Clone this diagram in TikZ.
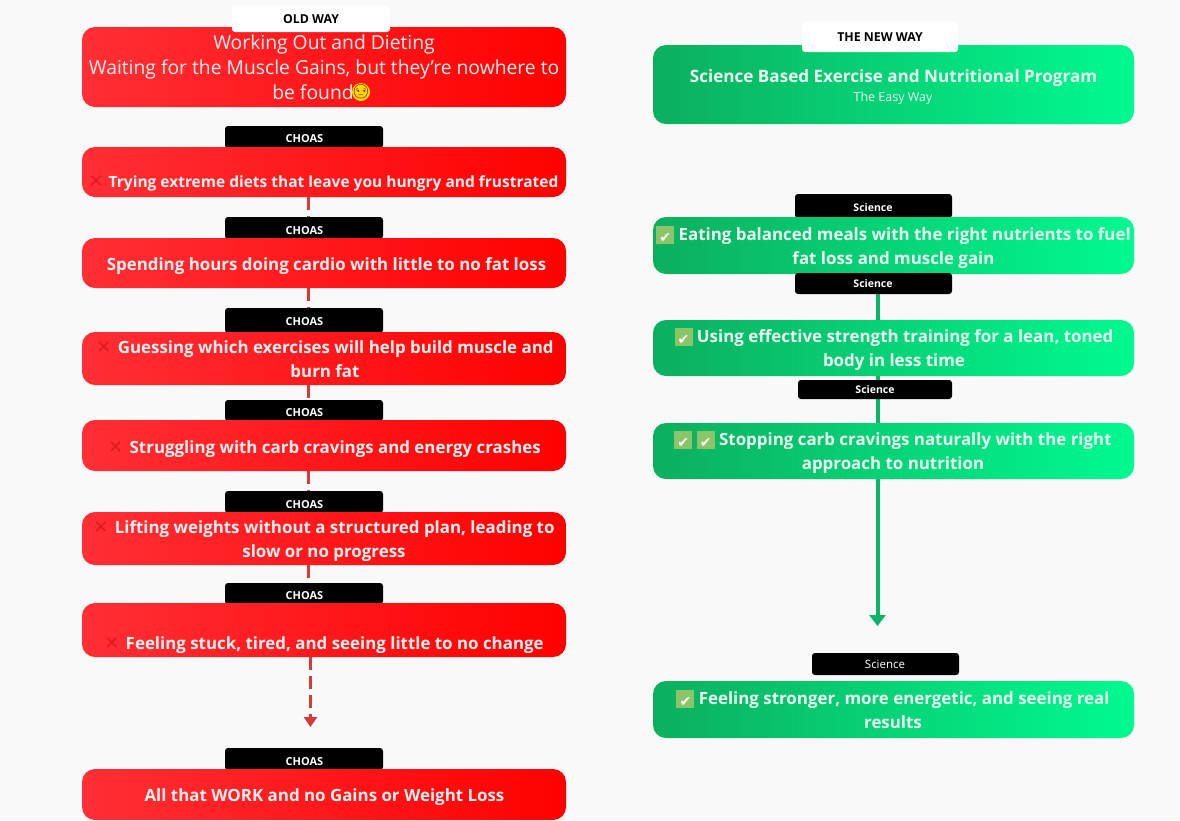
\documentclass[tikz,border=0pt]{standalone}
\usepackage{fontspec}
\setmainfont{Open Sans}
\newfontfamily\dejavu{DejaVu Sans}
\newfontfamily\emojifam{Noto Emoji}
\usetikzlibrary{arrows.meta,backgrounds}
\definecolor{pagebg}{HTML}{F9F9F9}
\definecolor{redL}{HTML}{FF2F35}
\definecolor{redR}{HTML}{FF0000}
\definecolor{greenL}{HTML}{0CAF5E}
\definecolor{greenR}{HTML}{00FA90}
\definecolor{dashred}{HTML}{D83A3A}
\definecolor{linegreen}{HTML}{0DB56A}
\definecolor{chkbg}{HTML}{8CC46A}
\definecolor{crossred}{HTML}{E01820}
\definecolor{softwhite}{HTML}{FFEFEF}
\definecolor{softgreen}{HTML}{EAFFF4}
\newcommand{\chk}{{\setlength{\fboxsep}{1pt}\raisebox{-2pt}{\colorbox{chkbg}{\makebox[16pt]{\rule[-1pt]{0pt}{16pt}\dejavu\fontsize{14}{14}\selectfont\textcolor{white}{✔}}}}}}
\newcommand{\crs}{{\dejavu\fontsize{18}{18}\selectfont\textcolor{crossred}{✕}}}
\tikzset{
  x=1pt,y=-1pt,
  boxbase/.style={inner sep=0pt,rounded corners=13pt,minimum width=#1},
  redbox/.style={boxbase=484pt,left color=redL,right color=redR},
  greenbox/.style={boxbase=481pt,left color=greenL,right color=greenR},
  bodytext/.style={inner sep=0pt,align=center,text=softwhite,font=\fontsize{16.9}{24.5}\selectfont\bfseries},
  greentext/.style={bodytext,text=softgreen},
  blacktag/.style={fill=black,text=white,inner sep=0pt,rounded corners=3pt},
  whitetag/.style={fill=white,text=black,inner sep=0pt,rounded corners=3pt,font=\fontsize{12.3}{14}\selectfont\bfseries},
  taglabel/.style={inner sep=0pt,text=white,font=\fontsize{11}{12}\selectfont\bfseries},
  reddash/.style={draw=dashred,line width=3pt,dash pattern=on 13pt off 6pt},
  greenline/.style={draw=linegreen,line width=4pt},
}
\begin{document}
\begin{tikzpicture}
\useasboundingbox (0,0) rectangle (1180,820);
% black tags sit behind the boxes
\foreach \n/\ya/\yb in {t1/126/148,t2/217/239,t3/308/333,t4/400/421,t5/491/513,t6/583/604,t7/748/770}{
  \node[blacktag,minimum width=158pt,minimum height={(\yb-\ya)*1pt}] (\n) at (304,{(\ya+\yb)/2}) {};
}
\node[blacktag,minimum width=157pt,minimum height=24pt] (s1) at (873.5,206) {};
% red boxes
\node[redbox,minimum height=80pt] (r0) at (324,67) {};
\node[redbox,minimum height=50pt] (r1) at (324,172) {};
\node[redbox,minimum height=50pt] (r2) at (324,263) {};
\node[redbox,minimum height=53pt] (r3) at (324,358.5) {};
\node[redbox,minimum height=51pt] (r4) at (324,445.5) {};
\node[redbox,minimum height=53pt] (r5) at (324,538.5) {};
\node[redbox,minimum height=54pt] (r6) at (324,630) {};
\node[redbox,minimum height=51pt] (r7) at (324,794.5) {};
% green boxes
\node[greenbox,minimum height=79pt] (g0) at (893.5,84.5) {};
\node[greenbox,minimum height=57pt] (g1) at (893.5,245.5) {};
\node[greenbox,minimum height=56pt] (g2) at (893.5,348) {};
\node[greenbox,minimum height=56pt] (g3) at (893.5,451) {};
\node[greenbox,minimum height=57pt] (g4) at (893.5,709.5) {};
% tags on top
\node[whitetag,minimum width=158pt,minimum height=26pt] (oldway) at (311,19) {OLD WAY};
\node[whitetag,minimum width=156pt,minimum height=30pt] (newway) at (880,37) {THE NEW WAY};
\node[blacktag,minimum width=157pt,minimum height=21pt] (s2) at (873.5,283.5) {};
\node[blacktag,minimum width=154pt,minimum height=19pt] (s3) at (875,389.5) {};
\node[blacktag,minimum width=147pt,minimum height=22pt] (s4) at (885.5,664) {};
% tag labels
\foreach \n/\y in {t1/139,t2/231,t3/322,t4/413,t5/505,t6/596,t7/762}{
  \node[taglabel] (\n l) at (304.5,\y) {CHOAS};
}
\node[taglabel,font=\fontsize{10.5}{12}\selectfont\bfseries] (s1l) at (873,208) {Science};
\node[taglabel,font=\fontsize{10.5}{12}\selectfont\bfseries] (s2l) at (873,284) {Science};
\node[taglabel,font=\fontsize{10.5}{12}\selectfont\bfseries] (s3l) at (875,390) {Science};
\node[taglabel,font=\fontsize{11.5}{12}\selectfont] (s4l) at (885,664) {Science};
% box texts
\node[inner sep=0pt,align=center,text=softwhite,font=\fontsize{19.3}{25}\selectfont] (r0t) at (324,67) {Working Out and Dieting\\Waiting for the Muscle Gains, but they’re nowhere to\\be found\hspace*{22pt}};
\node[circle,fill=yellow!75!orange,inner sep=0pt,minimum size=18pt] (emodisc) at (361,92) {};
\node[inner sep=0pt,font=\emojifam\fontsize{14}{14}\selectfont,text=red!40!black] (emo) at (361,92) {😒};
\node[bodytext,font=\fontsize{15.5}{24.5}\selectfont\bfseries] (r1t) at (323.5,183) {\crs\hspace{1pt} Trying extreme diets that leave you hungry and frustrated};
\node[bodytext] (r2t) at (326.5,266) {Spending hours doing cardio with little to no fat loss};
\node[bodytext] (r3t) at (325,359) {\crs\hspace{2pt} Guessing which exercises will help build muscle and\\burn fat};
\node[bodytext] (r4t) at (324.5,449) {\crs\hspace{2pt} Struggling with carb cravings and energy crashes};
\node[bodytext] (r5t) at (324,541) {\crs\hspace{2pt} Lifting weights without a structured plan, leading to\\slow or no progress};
\node[bodytext] (r6t) at (324,645) {\crs\hspace{2pt} Feeling stuck, tired, and seeing little to no change};
\node[bodytext] (r7t) at (324.5,797) {All that WORK and no Gains or Weight Loss};
\node[greentext,font=\fontsize{17.1}{24.5}\selectfont\bfseries] (g0t) at (893.5,78) {Science Based Exercise and Nutritional Program};
\node[inner sep=0pt,text=softgreen,font=\fontsize{12.5}{14}\selectfont] (g0s) at (893,98) {The Easy Way};
\node[greentext] (g1t) at (893.5,247.5) {\chk\ Eating balanced meals with the right nutrients to fuel\\fat loss and muscle gain};
\node[greentext] (g2t) at (894,349.5) {\chk\ Using effective strength training for a lean, toned\\body in less time};
\node[greentext] (g3t) at (893,452.5) {\chk\ \chk\ Stopping carb cravings naturally with the right\\approach to nutrition};
\node[greentext] (g4t) at (893,709.5) {\chk\ Feeling stronger, more energetic, and seeing real\\results};
% connectors
\coordinate (rx) at (308,0);
\coordinate (gx) at (877.5,0);
\coordinate (rend) at (310.5,727);
\coordinate (gend) at (877.5,626);
\begin{pgfonlayer}{background}
\fill[pagebg] (0,0) rectangle (1180,820);
\draw[reddash] (r1.south -| rx) -- (t2.north -| rx);
\draw[reddash] (r2.south -| rx) -- (t3.north -| rx);
\draw[reddash] (r3.south -| rx) -- (t4.north -| rx);
\draw[reddash] (r4.south -| rx) -- (t5.north -| rx);
\draw[reddash] (r5.south -| rx) -- (t6.north -| rx);
\draw[greenline] (s2.south -| gx) -- (g2.north -| gx);
\draw[greenline] (g2.south -| gx) -- (s3.north -| gx);
\draw[greenline] (s3.south -| gx) -- (g3.north -| gx);
\end{pgfonlayer}
\draw[reddash,-{Triangle[length=10pt,width=13pt,fill=dashred]}] (r6.south -| rend) -- (rend);
\draw[greenline,-{Triangle[length=11pt,width=16pt,fill=linegreen]}] (g3.south -| gend) -- (gend);
\end{tikzpicture}
\end{document}
